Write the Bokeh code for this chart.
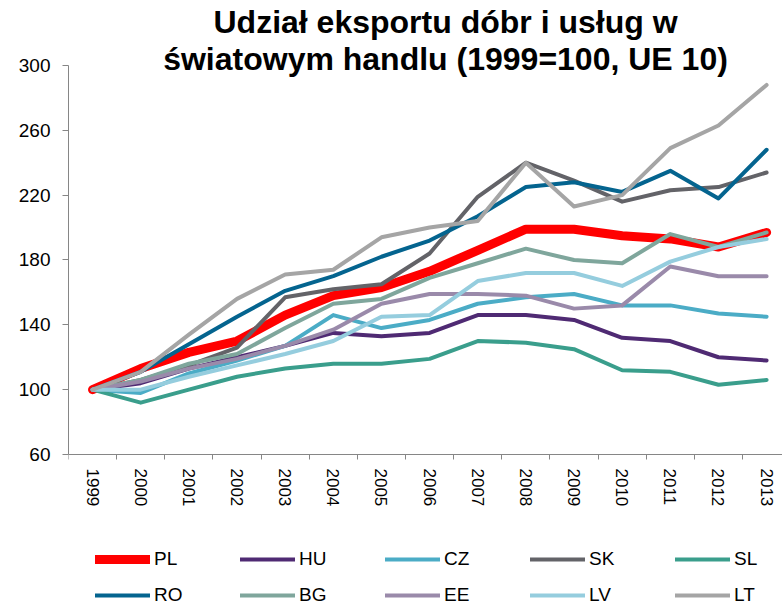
from bokeh.plotting import figure
from bokeh.models import Range1d, FixedTicker, Label, Legend, LegendItem
from bokeh.embed import file_html
from bokeh.resources import INLINE

years = [str(y) for y in range(1999, 2014)]
y_ticks = [60, 100, 140, 180, 220, 260, 300]

PL = [100, 113, 123, 130, 146, 158, 163, 173, 186, 199, 199, 195, 193, 188, 197]
HU = [100, 104, 113, 120, 127, 135, 133, 135, 146, 146, 143, 132, 130, 120, 118]
CZ = [100, 98, 110, 118, 127, 146, 138, 143, 153, 157, 159, 152, 152, 147, 145]
SK = [100, 106, 115, 126, 157, 162, 165, 184, 219, 240, 229, 216, 223, 225, 234]
SL = [100, 92, 100, 108, 113, 116, 116, 119, 130, 129, 125, 112, 111, 103, 106]
RO = [100, 111, 128, 145, 161, 170, 182, 192, 207, 225, 228, 222, 235, 218, 248]
BG = [100, 106, 116, 122, 138, 153, 156, 169, 178, 187, 180, 178, 196, 188, 197]
EE = [100, 105, 113, 119, 127, 137, 153, 159, 159, 158, 150, 152, 176, 170, 170]
LV = [100, 100, 108, 115, 122, 130, 145, 146, 167, 172, 172, 164, 179, 188, 193]
LT = [100, 111, 134, 156, 171, 174, 194, 200, 204, 240, 213, 220, 249, 263, 288]

names = ["PL", "HU", "CZ", "SK", "SL", "RO", "BG", "EE", "LV", "LT"]
values = [PL, HU, CZ, SK, SL, RO, BG, EE, LV, LT]
colors = ["#FF0000", "#4F2A73", "#4BACC6", "#636368", "#3A9E8C",
          "#04648F", "#7FA69C", "#9A8AAA", "#95CDDE", "#A5A5A5"]
widths = [9, 4, 4, 4, 4, 4, 4, 4, 4, 4]

FONT = "Liberation Sans"
AXIS_COLOR = "#868686"

xs = list(range(len(years)))

# frame covers the whole canvas height; the x axis sits at y = 60
p = figure(width=782, height=606,
           x_range=Range1d(-0.5, 14.33), y_range=Range1d(-33.78, 340.1),
           output_backend="svg", toolbar_location=None,
           min_border_left=68, min_border_right=0,
           min_border_top=0, min_border_bottom=0)
p.outline_line_color = None
p.xgrid.visible = False
p.ygrid.visible = False

renderers = []
for n, v, c, w in zip(names, values, colors, widths):
    r = p.line(xs, v, line_color=c, line_width=w, line_cap="round", line_join="round")
    renderers.append(r)

# y axis
ya = p.yaxis[0]
ya.ticker = FixedTicker(ticks=y_ticks)
ya.bounds = (60, 300)
ya.axis_line_color = AXIS_COLOR
ya.major_tick_line_color = AXIS_COLOR
ya.major_tick_out = 6
ya.major_tick_in = 0
ya.minor_tick_line_color = None
ya.major_label_standoff = 12
ya.major_label_text_font = FONT
ya.major_label_text_font_size = "19px"
ya.major_label_text_color = "#000000"

# x axis
xa = p.xaxis[0]
xa.fixed_location = 60
xa.ticker = FixedTicker(ticks=xs, minor_ticks=[i - 0.5 for i in range(len(years) + 1)])
xa.major_label_overrides = {i: years[i] for i in xs}
xa.major_label_orientation = "vertical"
xa.axis_line_color = AXIS_COLOR
xa.major_tick_line_color = None
xa.major_tick_out = 0
xa.major_tick_in = 0
xa.minor_tick_line_color = AXIS_COLOR
xa.minor_tick_out = 5
xa.minor_tick_in = 0
xa.major_label_standoff = 9
xa.major_label_text_font = FONT
xa.major_label_text_font_size = "17px"
xa.major_label_text_color = "#000000"

# title (two lines)
title_lines = ["Udział eksportu dóbr i usług w", "światowym handlu (1999=100, UE 10)"]
for t, yy in zip(title_lines, [585, 548]):
    p.add_layout(Label(x=377, y=yy, x_units="screen", y_units="screen", text=t,
                       text_align="center", text_baseline="middle",
                       text_font=FONT, text_font_style="bold",
                       text_font_size="32px", text_color="#000000"))

# legend: two rows of five
for row, ly in [(0, 36), (1, 0)]:
    items = [LegendItem(label=names[i], renderers=[renderers[i]])
             for i in range(row * 5, row * 5 + 5)]
    lg = Legend(items=items, orientation="horizontal", location=(27, ly),
                glyph_width=55, glyph_height=20, label_height=20, label_width=81,
                label_standoff=4, spacing=5, padding=0, margin=0,
                border_line_color=None, background_fill_alpha=0,
                label_text_font=FONT, label_text_font_size="19px",
                label_text_color="#000000")
    p.add_layout(lg, "center")

open("out.html", "w").write(file_html(p, INLINE))
